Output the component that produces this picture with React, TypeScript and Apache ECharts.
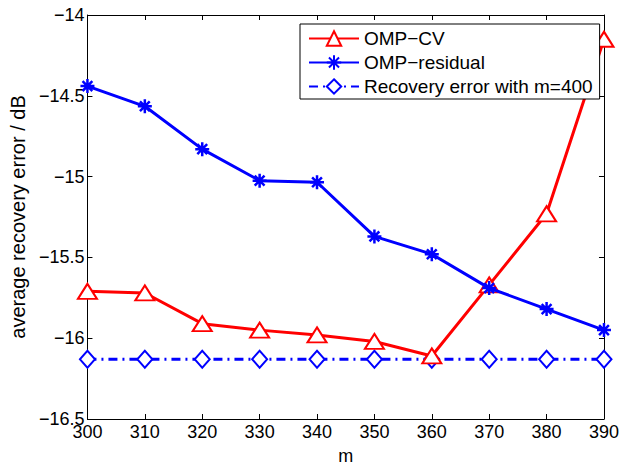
import React, { useEffect, useRef } from "react";
import * as echarts from "echarts";

const mValues = [300, 310, 320, 330, 340, 350, 360, 370, 380, 390];
const ompCV = [-15.71, -15.72, -15.91, -15.95, -15.98, -16.02, -16.11, -15.67, -15.23, -14.15];
const ompResidual = [-14.44, -14.565, -14.83, -15.025, -15.035, -15.37, -15.48, -15.69, -15.82, -15.95];
const recovery400 = [-16.13, -16.13, -16.13, -16.13, -16.13, -16.13, -16.13, -16.13, -16.13, -16.13];
const seriesNames = ["OMP\u2212CV", "OMP\u2212residual", "Recovery error with m=400"];

const FONT = "'Liberation Sans', Arial, Helvetica, sans-serif";
const asterisk =
  "path://M0,-10 L0,10 M-10,0 L10,0 M-7,-7 L7,7 M-7,7 L7,-7";

const fmt = (v: number) => String(v).replace("-", "\u2212");

export default function App() {
  const ref = useRef<HTMLDivElement>(null);
  useEffect(() => {
    if (!ref.current) return;
    const chart = echarts.init(ref.current, null, { renderer: "svg" });
    const pairs = (vals: number[]) => mValues.map((m, i) => [m, vals[i]]);
    const axisCommon = {
      axisLine: { show: true, lineStyle: { color: "#000", width: 1 } },
      axisTick: { show: true, inside: true, length: 5, lineStyle: { color: "#000" } },
      splitLine: { show: false },
    };
    chart.setOption({
      animation: false,
      backgroundColor: "#fff",
      textStyle: { fontFamily: FONT },
      grid: { left: 86, right: 15, top: 15, bottom: 44, containLabel: false },
      legend: {
        orient: "vertical",
        left: 300,
        top: 24,
        padding: [5, 7, 3, 8],
        itemWidth: 50,
        itemHeight: 18,
        itemGap: 5,
        backgroundColor: "#fff",
        borderColor: "#000",
        borderWidth: 1,
        borderRadius: 0,
        textStyle: { fontSize: 19, color: "#000", fontFamily: FONT, lineHeight: 19 },
        data: seriesNames,
      },
      xAxis: [
        {
          type: "value",
          min: 300,
          max: 390,
          interval: 10,
          position: "bottom",
          name: "m",
          nameLocation: "middle",
          nameGap: 28,
          nameTextStyle: { fontSize: 18, color: "#000", fontFamily: FONT },
          axisLabel: { fontSize: 18, color: "#000", margin: 4, fontFamily: FONT },
          ...axisCommon,
        },
        {
          type: "value",
          min: 300,
          max: 390,
          interval: 10,
          position: "top",
          axisLabel: { show: false },
          ...axisCommon,
        },
      ],
      yAxis: [
        {
          type: "value",
          min: -16.5,
          max: -14,
          interval: 0.5,
          position: "left",
          name: "average recovery error / dB",
          nameLocation: "middle",
          nameGap: 54,
          nameTextStyle: { fontSize: 20, color: "#000", fontFamily: FONT },
          axisLabel: { fontSize: 18, color: "#000", margin: 3, formatter: fmt, fontFamily: FONT },
          ...axisCommon,
        },
        {
          type: "value",
          min: -16.5,
          max: -14,
          interval: 0.5,
          position: "right",
          axisLabel: { show: false },
          ...axisCommon,
        },
      ],
      series: [
        {
          name: seriesNames[0],
          type: "line",
          data: pairs(ompCV),
          symbol: "emptyTriangle",
          symbolSize: [19, 15],
          lineStyle: { color: "#ff0000", width: 3 },
          itemStyle: { color: "#ff0000", borderWidth: 2.5 },
          z: 3,
        },
        {
          name: seriesNames[1],
          type: "line",
          data: pairs(ompResidual),
          symbol: asterisk,
          symbolSize: 14,
          lineStyle: { color: "#0000ff", width: 3 },
          itemStyle: { color: "#0000ff", borderColor: "#0000ff", borderWidth: 2.5 },
          z: 4,
        },
        {
          name: seriesNames[2],
          type: "line",
          data: pairs(recovery400),
          symbol: "emptyDiamond",
          symbolSize: [15, 17],
          lineStyle: { color: "#0000ff", width: 3, type: [9, 5, 2, 5] },
          itemStyle: { color: "#0000ff", borderWidth: 2.5 },
          z: 2,
        },
      ],
    });
    return () => chart.dispose();
  }, []);
  return <div ref={ref} style={{ width: 622, height: 470, position: "absolute", left: 0, top: 0 }} />;
}
